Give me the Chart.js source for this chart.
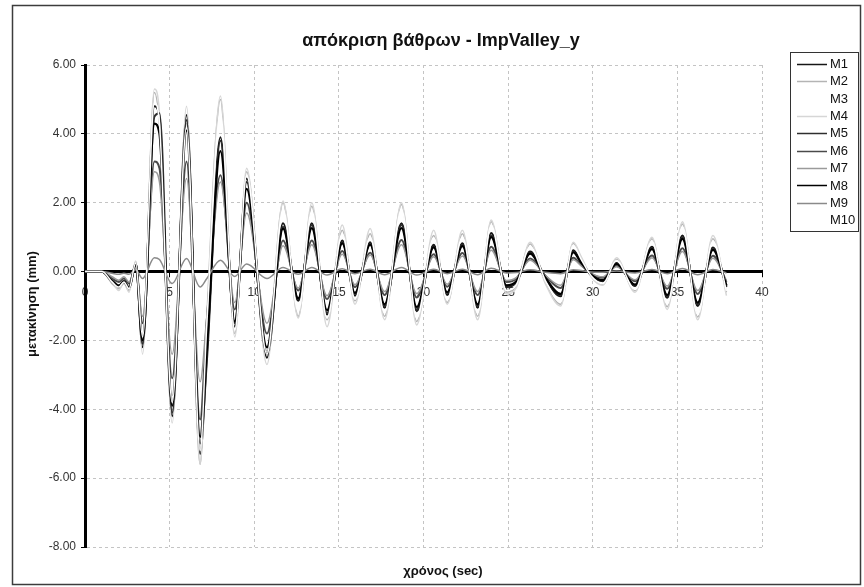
<!DOCTYPE html>
<html>
<head>
<meta charset="utf-8">
<script src="https://cdn.jsdelivr.net/npm/chart.js@4.4.0/dist/chart.umd.min.js"></script>
<style>
  html, body { margin: 0; padding: 0; background: #ffffff; }
  canvas { display: block; }
</style>
</head>
<body>
<canvas id="chart" width="864" height="587"></canvas>
<script>
// Time instants (sec) of the response samples
const timeSec = [0, 1.0, 1.6, 2.0, 2.3, 2.6, 3.0, 3.4, 4.1, 4.4,
  5.15, 6.0, 6.8, 7.2, 8.0, 8.85, 9.55, 10.75, 11.7, 12.6,
  13.4, 14.3, 15.2, 15.95, 16.85, 17.7, 18.7, 19.6, 20.6, 21.4,
  22.3, 23.2, 24.0, 24.9, 25.5, 26.3, 27.2, 28.1, 28.85, 29.3,
  29.9, 30.6, 31.4, 32.5, 33.5, 34.4, 35.3, 36.2, 37.1, 37.9];

// Pier displacements (mm)
const M1 = [0, 0, -0.3, -0.45, -0.3, -0.5, 0.25, -2.2, 4.8, 4.5,
  -4.2, 4.55, -5.3, -2.4, 3.9, -1.6, 2.7, -2.5, 1.4, -0.85,
  1.4, -1.25, 0.9, -0.7, 0.85, -1.05, 1.4, -1.15, 0.78, -0.68,
  0.82, -1.05, 1.12, -0.45, -0.3, 0.58, -0.2, -0.72, 0.62, 0.3,
  -0.1, -0.28, 0.25, -0.42, 0.72, -0.76, 1.05, -1.0, 0.7, -0.45];
const M2 = [0, 0, -0.35, -0.5, -0.35, -0.55, 0.3, -2.0, 5.2, 4.2,
  -3.6, 4.3, -5.6, -1.3, 5.0, -1.8, 2.9, -2.3, 2.0, -1.3,
  1.9, -1.4, 1.2, -0.85, 1.1, -1.3, 1.95, -1.45, 1.05, -0.9,
  1.1, -1.3, 1.45, -0.6, -0.4, 0.8, -0.3, -0.95, 0.82, 0.4,
  -0.12, -0.38, 0.35, -0.55, 0.95, -1.02, 1.38, -1.32, 0.95, -0.6];
const M3 = [0, 0, -0.2, -0.35, -0.2, -0.4, 0.2, -1.6, 3.6, 3.3,
  -3.1, 3.4, -4.0, -2.0, 2.9, -1.2, 2.0, -1.9, 1.05, -0.65,
  1.05, -0.95, 0.68, -0.52, 0.64, -0.8, 1.05, -0.86, 0.58, -0.5,
  0.62, -0.8, 0.84, -0.35, -0.22, 0.44, -0.15, -0.55, 0.46, 0.22,
  -0.08, -0.2, 0.2, -0.32, 0.54, -0.58, 0.8, -0.75, 0.52, -0.34];
const M4 = [0, 0, -0.3, -0.55, -0.3, -0.6, 0.3, -2.4, 5.3, 4.6,
  -4.4, 4.8, -5.6, -1.6, 5.1, -1.9, 3.0, -2.7, 2.05, -1.35,
  2.0, -1.6, 1.35, -0.95, 1.25, -1.4, 2.0, -1.55, 1.2, -0.95,
  1.2, -1.4, 1.5, -0.65, -0.45, 0.85, -0.35, -1.0, 0.85, 0.45,
  -0.15, -0.4, 0.4, -0.6, 1.0, -1.1, 1.45, -1.4, 1.05, -0.7];
const M5 = [0, 0, -0.25, -0.4, -0.3, -0.45, 0.2, -2.1, 4.5, 4.6,
  -4.1, 4.4, -5.0, -2.6, 3.8, -1.5, 2.6, -2.4, 1.3, -0.8,
  1.35, -1.2, 0.85, -0.65, 0.8, -1.0, 1.35, -1.1, 0.72, -0.62,
  0.78, -1.0, 1.05, -0.42, -0.3, 0.55, -0.18, -0.68, 0.58, 0.28,
  -0.1, -0.26, 0.23, -0.4, 0.68, -0.72, 1.0, -0.95, 0.66, -0.42];
const M6 = [0, 0, -0.2, -0.3, -0.2, -0.35, 0.15, -1.5, 3.2, 3.0,
  -3.1, 3.2, -4.3, -1.4, 2.8, -1.1, 2.0, -1.8, 0.9, -0.55,
  0.9, -0.8, 0.6, -0.45, 0.55, -0.68, 0.92, -0.75, 0.5, -0.44,
  0.54, -0.68, 0.72, -0.3, -0.2, 0.38, -0.12, -0.48, 0.4, 0.2,
  -0.06, -0.18, 0.16, -0.28, 0.47, -0.5, 0.68, -0.65, 0.46, -0.3];
const M7 = [0, 0, -0.15, -0.25, -0.15, -0.3, 0.12, -1.3, 2.9, 2.6,
  -2.4, 2.7, -3.2, -1.3, 2.6, -0.9, 1.7, -1.5, 0.75, -0.48,
  0.78, -0.7, 0.5, -0.38, 0.48, -0.58, 0.78, -0.64, 0.43, -0.37,
  0.45, -0.58, 0.62, -0.26, -0.17, 0.33, -0.11, -0.4, 0.34, 0.17,
  -0.05, -0.15, 0.14, -0.24, 0.4, -0.42, 0.58, -0.55, 0.39, -0.25];
const M8 = [0, 0, -0.28, -0.42, -0.28, -0.48, 0.22, -2.0, 4.3, 4.0,
  -3.9, 4.1, -4.8, -2.2, 3.5, -1.45, 2.4, -2.2, 1.25, -0.78,
  1.26, -1.12, 0.82, -0.62, 0.78, -0.95, 1.26, -1.03, 0.7, -0.6,
  0.74, -0.95, 1.0, -0.4, -0.27, 0.52, -0.18, -0.65, 0.56, 0.27,
  -0.09, -0.25, 0.22, -0.38, 0.65, -0.68, 0.95, -0.9, 0.63, -0.4];
const M9 = [0, 0, -0.05, -0.08, -0.05, -0.08, 0.05, -0.2, 0.4, 0.35,
  -0.35, 0.38, -0.45, -0.2, 0.33, -0.14, 0.22, -0.2, 0.12, -0.08,
  0.12, -0.1, 0.08, -0.06, 0.07, -0.09, 0.12, -0.1, 0.07, -0.06,
  0.07, -0.09, 0.1, -0.04, -0.03, 0.05, -0.02, -0.06, 0.05, 0.03,
  -0.01, -0.02, 0.02, -0.04, 0.06, -0.06, 0.09, -0.09, 0.06, -0.04];
const M10 = [0, 0, -0.3, -0.45, -0.3, -0.5, 0.25, -1.9, 4.9, 4.3,
  -3.8, 4.2, -5.2, -1.5, 4.6, -1.7, 2.8, -2.4, 1.8, -1.15,
  1.75, -1.35, 1.1, -0.8, 1.0, -1.2, 1.8, -1.35, 0.98, -0.82,
  1.0, -1.2, 1.35, -0.55, -0.37, 0.72, -0.26, -0.88, 0.76, 0.37,
  -0.12, -0.35, 0.32, -0.52, 0.88, -0.95, 1.3, -1.25, 0.88, -0.56];

const seriesNames = ['M1', 'M2', 'M3', 'M4', 'M5', 'M6', 'M7', 'M8', 'M9', 'M10'];
const seriesValues = [M1, M2, M3, M4, M5, M6, M7, M8, M9, M10];
const seriesColors = ['#161616', '#b4b4b4', '#ffffff', '#d6d6d6', '#2e2e2e',
                      '#4a4a4a', '#9a9a9a', '#000000', '#8a8a8a', '#ffffff'];
const seriesWidths = [2, 1.5, 1.5, 1.5, 2, 2, 1.5, 2.2, 1.5, 1.5];

const chartTitle = 'απόκριση βάθρων - ImpValley_y';
const xTitle = 'χρόνος (sec)';
const yTitle = 'μετακίνηση (mm)';

const FONT = 'Arial, "Liberation Sans", sans-serif';

const datasets = seriesNames.map((name, i) => ({
  label: name,
  data: timeSec.map((t, k) => ({ x: t, y: seriesValues[i][k] })),
  borderColor: seriesColors[i],
  borderWidth: seriesWidths[i],
  pointRadius: 0,
  cubicInterpolationMode: 'monotone',
  fill: false,
  order: seriesNames.length - i
}));

// Outer frame, titles and the boxed legend on the right
const decorations = {
  id: 'decorations',
  afterDraw(chart) {
    const ctx = chart.ctx;
    ctx.save();
    // chart frame
    ctx.strokeStyle = '#3c3c3c';
    ctx.lineWidth = 1.5;
    ctx.strokeRect(12.5, 5.5, 848, 579);

    // titles
    ctx.fillStyle = '#111';
    ctx.textAlign = 'center';
    ctx.textBaseline = 'middle';
    ctx.font = 'bold 18px ' + FONT;
    ctx.fillText(chartTitle, 441, 41);
    ctx.font = 'bold 13px ' + FONT;
    ctx.fillText(xTitle, 443, 571);
    ctx.save();
    ctx.translate(32, 304);
    ctx.rotate(-Math.PI / 2);
    ctx.fillText(yTitle, 0, 0);
    ctx.restore();

    // legend
    const lx = 790, ly = 52, lw = 68, lh = 179;
    ctx.fillStyle = '#ffffff';
    ctx.fillRect(lx, ly, lw, lh);
    ctx.strokeStyle = '#333';
    ctx.lineWidth = 1;
    ctx.strokeRect(lx + 0.5, ly + 0.5, lw, lh);
    ctx.font = '13px ' + FONT;
    ctx.textAlign = 'left';
    chart.data.datasets.forEach((ds, i) => {
      const y = 64 + i * 17.35;
      ctx.strokeStyle = ds.borderColor;
      ctx.lineWidth = Math.min(ds.borderWidth, 1.5);
      ctx.beginPath();
      ctx.moveTo(797, Math.round(y) + 0.5);
      ctx.lineTo(827, Math.round(y) + 0.5);
      ctx.stroke();
      ctx.fillStyle = '#111';
      ctx.fillText(ds.label, 830, y + 0.5);
    });
    ctx.restore();
  }
};

new Chart(document.getElementById('chart'), {
  type: 'line',
  data: { datasets },
  plugins: [decorations],
  options: {
    responsive: false,
    animation: false,
    events: [],
    layout: { padding: { top: 65, bottom: 40, left: 40, right: 102 } },
    plugins: { legend: { display: false }, title: { display: false }, tooltip: { enabled: false } },
    scales: {
      x: {
        type: 'linear',
        position: { y: 0 },
        min: 0,
        max: 40,
        ticks: {
          stepSize: 5,
          color: '#333',
          font: { family: FONT, size: 12 },
          padding: 10,
          maxRotation: 0
        },
        grid: {
          color: '#c4c4c4',
          lineWidth: 1,
          tickColor: '#000',
          tickLength: 4,
          drawTicks: true
        },
        border: { display: true, color: '#000', width: 3, dash: [3, 3] }
      },
      y: {
        type: 'linear',
        position: 'left',
        min: -8,
        max: 6,
        afterFit(scale) { scale.width = 45; },
        ticks: {
          stepSize: 2,
          color: '#333',
          font: { family: FONT, size: 12 },
          padding: 5,
          callback: (v) => Number(v).toFixed(2)
        },
        grid: {
          color: '#c4c4c4',
          lineWidth: 1,
          tickColor: '#000',
          tickLength: 4,
          drawTicks: true
        },
        border: { display: true, color: '#000', width: 3, dash: [3, 3] }
      }
    }
  }
});
</script>
</body>
</html>
